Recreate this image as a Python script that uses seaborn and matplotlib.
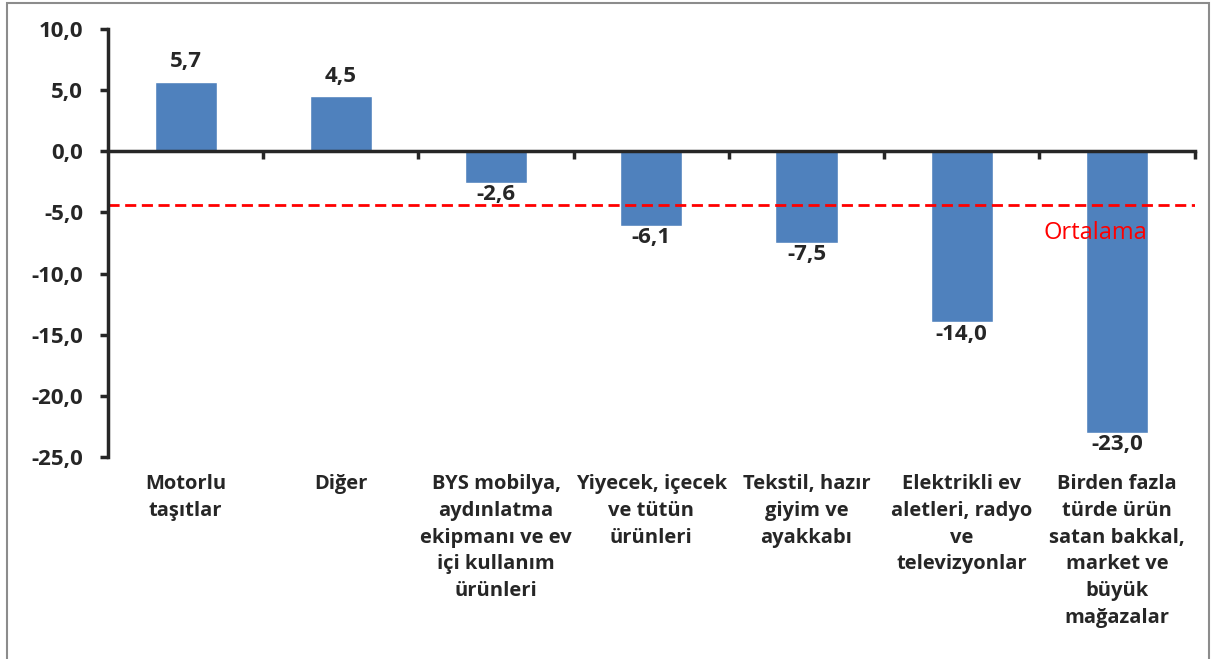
import matplotlib.pyplot as plt
import matplotlib.transforms as mtransforms
from matplotlib.patches import Rectangle
import seaborn as sns
import pandas as pd

# Kategoriler ve değerler
categories = ['Motorlu\ntaşıtlar', 'Diğer',
              'BYS mobilya,\naydınlatma\nekipmanı ve ev\niçi kullanım\nürünleri',
              'Yiyecek, içecek\nve tütün\nürünleri',
              'Tekstil, hazır\ngiyim ve\nayakkabı',
              'Elektrikli ev\naletleri, radyo\nve\ntelevizyonlar',
              'Birden fazla\ntürde ürün\nsatan bakkal,\nmarket ve\nbüyük\nmağazalar']
values = [5.7, 4.5, -2.6, -6.1, -7.5, -14.0, -23.0]
average = -4.4
y_ticks = [10, 5, 0, -5, -10, -15, -20, -25]

sns.set_style('white')
plt.rcParams['font.family'] = ['Open Sans', 'DejaVu Sans']

df = pd.DataFrame({'kategori': categories, 'deger': values})

fig = plt.figure(figsize=(12.14, 6.59), dpi=100)
ax = fig.add_axes([0.089, 0.3065, 0.895, 0.6495])

sns.barplot(data=df, x='kategori', y='deger', color='#4F81BD',
            saturation=1, width=0.4, ax=ax)

ax.set_ylim(-25, 10)
ax.set_xlim(-0.5, len(categories) - 0.5)
ax.set_yticks(y_ticks)
ax.set_yticklabels([f"{t:.1f}".replace('.', ',') for t in y_ticks],
                   fontsize=16, fontweight='bold')
ax.tick_params(axis='y', direction='out', length=6, width=2.5, pad=12, left=True)

# x ekseni sıfırda, kategori sınırlarında tik
ax.spines['bottom'].set_position(('data', 0))
ax.spines['bottom'].set_linewidth(2.5)
ax.spines['left'].set_linewidth(2.5)
ax.spines['top'].set_visible(False)
ax.spines['right'].set_visible(False)
ax.set_xticks([i + 0.5 for i in range(len(categories))])
ax.set_xticklabels([])
ax.tick_params(axis='x', direction='out', length=6, width=2.5, bottom=True)
ax.set_xlabel('')
ax.set_ylabel('')

# Kategori etiketleri eksenin altında
trans = mtransforms.blended_transform_factory(ax.transData, ax.transAxes)
offset = mtransforms.ScaledTranslation(0, -17 / 100, fig.dpi_scale_trans)
for i, cat in enumerate(categories):
    ax.text(i, 0, cat, transform=trans + offset, ha='center', va='top',
            fontsize=14.5, fontweight='bold', linespacing=1.45)

# Değer etiketleri
for i, v in enumerate(values):
    ax.annotate(f"{v:.1f}".replace('.', ','), (i, v),
                xytext=(0, 7 if v > 0 else -1), textcoords='offset points',
                ha='center', va='bottom' if v > 0 else 'top',
                fontsize=16, fontweight='bold')

# Ortalama çizgisi
ax.axhline(average, color='red', linestyle=(0, (4, 2)), linewidth=2)
ax.text(5.86, -6.7, 'Ortalama', color='red', fontsize=17,
        ha='center', va='center')

# Grafik çerçevesi
fig.patches.append(Rectangle((0.006, -0.01), 0.99, 1.005,
                             transform=fig.transFigure, fill=False,
                             edgecolor='#8c8c8c', linewidth=1.5))

fig.savefig('out.png', dpi=100)
